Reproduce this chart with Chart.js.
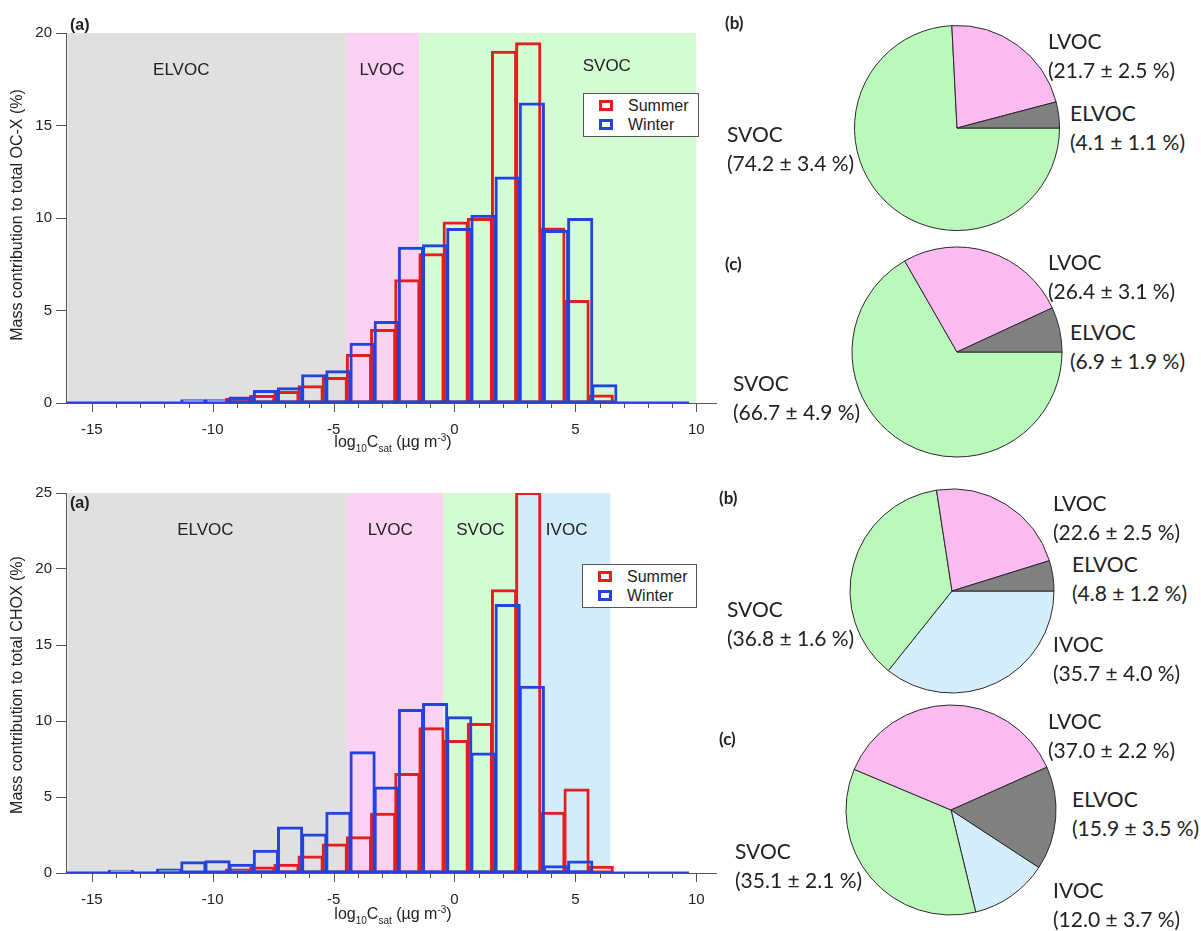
<!DOCTYPE html>
<html>
<head>
    <meta charset="UTF-8">
    <title>Volatility distribution OC-X / CHOX</title>
    <script src="https://cdn.jsdelivr.net/npm/chart.js"></script>
    <style>
        body {
            margin: 0;
            background: #fff;
            width: 1201px;
            height: 931px;
            position: relative;
            overflow: hidden;
            font-family: Arial, "Liberation Sans", sans-serif;
            color: #222;
        }
        canvas, .lbl { position: absolute; }
        .lbl { white-space: nowrap; }
        .pan { font-family: Lato, sans-serif; font-weight: bold; font-size: 17px; }
        .panA { font-weight: bold; font-size: 16px; }
        .pieTxt { font-family: Lato, sans-serif; font-size: 21px; line-height: 29px; }
        .xtitle { font-size: 16px; transform: translateX(-50%); }
        .xtitle sub, .xtitle sup { font-size: 10px; }
        .ytitle { font-size: 16px; transform: translate(-50%, -50%) rotate(-90deg); }
        .legend {
            position: absolute;
            border: 1px solid #555;
            background: #fff;
            font-size: 16px;
            box-sizing: border-box;
        }
        .legend .row { position: absolute; left: 0; height: 19px; line-height: 19px; }
        .legend .sw { position: absolute; left: 15px; top: 4px; width: 14px; height: 11px; box-sizing: border-box; border: 3px solid; }
        .legend .tx { position: absolute; left: 44px; top: 0; }
    </style>
</head>
<body>
    <canvas id="histOcx" width="740" height="460" style="left:0;top:0"></canvas>
    <canvas id="histChox" width="740" height="471" style="left:0;top:460px"></canvas>
    <canvas id="pieOcxB" width="220" height="220" style="left:847px;top:18px"></canvas>
    <canvas id="pieOcxC" width="224" height="224" style="left:845px;top:240px"></canvas>
    <canvas id="pieChoxB" width="220" height="220" style="left:842px;top:481px"></canvas>
    <canvas id="pieChoxC" width="224" height="224" style="left:839px;top:698px"></canvas>

    <div class="lbl panA" style="left:70px;top:16px">(a)</div>
    <div class="lbl panA" style="left:70px;top:494px">(a)</div>
    <div class="lbl pan" style="left:725px;top:12px">(b)</div>
    <div class="lbl pan" style="left:725px;top:253px">(c)</div>
    <div class="lbl pan" style="left:719px;top:487px">(b)</div>
    <div class="lbl pan" style="left:719px;top:728px">(c)</div>

    <div class="lbl ytitle" style="left:17px;top:215px">Mass contribution to total OC-X (%)</div>
    <div class="lbl ytitle" style="left:17px;top:685px">Mass contribution to total CHOX (%)</div>
    <div class="lbl xtitle" style="left:393px;top:432px">log<sub>10</sub>C<sub>sat</sub> (µg m<sup>-3</sup>)</div>
    <div class="lbl xtitle" style="left:393px;top:904px">log<sub>10</sub>C<sub>sat</sub> (µg m<sup>-3</sup>)</div>

    <div class="legend" style="left:583px;top:93px;width:116px;height:44px">
        <div class="row" style="top:2px"><div class="sw" style="border-color:#e41e1e"></div><div class="tx">Summer</div></div>
        <div class="row" style="top:21px"><div class="sw" style="border-color:#2244dd"></div><div class="tx">Winter</div></div>
    </div>
    <div class="legend" style="left:582px;top:564px;width:115px;height:44px">
        <div class="row" style="top:2px"><div class="sw" style="border-color:#e41e1e"></div><div class="tx">Summer</div></div>
        <div class="row" style="top:21px"><div class="sw" style="border-color:#2244dd"></div><div class="tx">Winter</div></div>
    </div>

    <script>
        // log10 Csat bins (one decade each)
        const bins = [-16, -15, -14, -13, -12, -11, -10, -9, -8, -7, -6, -5, -4, -3, -2, -1, 0, 1, 2, 3, 4, 5, 6, 7, 8, 9];
        const summerShift = 0.05;
        const winterShift = 0.2;

        const ocxSummer = [0, 0, 0, 0, 0, 0, 0, 0.23, 0.38, 0.6, 0.9, 1.35, 2.6, 3.95, 6.64, 8.04, 9.76, 9.94, 18.99, 19.44, 9.43, 5.52, 0.4, 0, 0, 0];
        const ocxWinter = [0, 0, 0, 0, 0, 0.15, 0.15, 0.3, 0.65, 0.8, 1.5, 1.71, 3.2, 4.38, 8.39, 8.53, 9.41, 10.12, 12.19, 16.19, 9.3, 9.94, 0.96, 0, 0, 0];
        const choxSummer = [0, 0, 0, 0, 0, 0, 0, 0.23, 0.36, 0.54, 1.09, 1.88, 2.36, 3.9, 6.51, 9.53, 8.69, 9.8, 18.6, 25.0, 3.97, 5.49, 0.41, 0, 0, 0];
        const choxWinter = [0, 0, 0.15, 0.05, 0.23, 0.7, 0.78, 0.55, 1.47, 3.0, 2.54, 3.97, 7.94, 5.63, 10.73, 11.12, 10.25, 7.87, 17.63, 12.25, 0.45, 0.75, 0, 0, 0, 0];

        const xTickLabels = [-15, -10, -5, 0, 5, 10];
        const ocxYTicks = [0, 5, 10, 15, 20];
        const choxYTicks = [0, 5, 10, 15, 20, 25];

        // volatility classes shaded behind the histograms
        const ocxBands = ['ELVOC', 'LVOC', 'SVOC'];
        const ocxBandEdges = [-16, -4.45, -1.45, 10];
        const choxBands = ['ELVOC', 'LVOC', 'SVOC', 'IVOC'];
        const choxBandEdges = [-16, -4.45, -0.45, 2.5, 6.45];
        const ocxBandLabelX = [-11.3, -3.0, 6.3];
        const ocxBandLabelY = [18.0, 18.0, 18.2];
        const choxBandLabelX = [-10.3, -2.66, 1.07, 4.64];
        const choxBandLabelY = [22.55, 22.55, 22.55, 22.55];

        // pie fractions (%) and errors
        const pieClasses = ['ELVOC', 'LVOC', 'SVOC', 'IVOC'];
        const ocxPieB = [4.1, 21.7, 74.2];
        const ocxPieBErr = [1.1, 2.5, 3.4];
        const ocxPieC = [6.9, 26.4, 66.7];
        const ocxPieCErr = [1.9, 3.1, 4.9];
        const choxPieB = [4.8, 22.6, 36.8, 35.7];
        const choxPieBErr = [1.2, 2.5, 1.6, 4.0];
        const choxPieC = [15.9, 37.0, 35.1, 12.0];
        const choxPieCErr = [3.5, 2.2, 2.1, 3.7];

        const RED = '#e41e1e';
        const BLUE = '#2244dd';
        const AXIS = '#555';
        const bandColors = { ELVOC: '#e0e0e0', LVOC: '#fcd2f4', SVOC: '#d4fcd4', IVOC: '#d3ecfa' };
        const pieColors = { ELVOC: '#808080', LVOC: '#fbbaf0', SVOC: '#bbf8bb', IVOC: '#d4eefb' };

        Chart.defaults.font.family = 'Arial, "Liberation Sans", sans-serif';
        Chart.defaults.font.size = 15;
        Chart.defaults.color = '#222';
        Chart.defaults.animation = false;

        const bandPlugin = {
            id: 'bands',
            beforeDraw(chart, args, o) {
                const { ctx, chartArea: a, scales: { x, y } } = chart;
                ctx.save();
                o.names.forEach((n, i) => {
                    const x0 = Math.max(x.getPixelForValue(o.edges[i]), a.left);
                    const x1 = Math.min(x.getPixelForValue(o.edges[i + 1]), a.right);
                    ctx.fillStyle = bandColors[n];
                    ctx.fillRect(x0, a.top, x1 - x0, a.bottom - a.top);
                });
                ctx.fillStyle = '#222';
                ctx.font = '17px Arial, "Liberation Sans", sans-serif';
                ctx.textAlign = 'center';
                ctx.textBaseline = 'middle';
                o.names.forEach((n, i) => {
                    ctx.fillText(n, x.getPixelForValue(o.labelX[i]), y.getPixelForValue(o.labelY[i]));
                });
                ctx.restore();
            },
            afterDraw(chart) {
                // x ticks: long on labelled values, short on every decade
                const { ctx, chartArea: a, scales: { x } } = chart;
                ctx.save();
                ctx.strokeStyle = AXIS;
                ctx.lineWidth = 1;
                ctx.beginPath();
                for (let v = Math.ceil(x.min); v <= Math.floor(x.max); v++) {
                    const px = Math.round(x.getPixelForValue(v)) + 0.5;
                    const len = xTickLabels.includes(v) ? 9 : 5;
                    ctx.moveTo(px, a.bottom);
                    ctx.lineTo(px, a.bottom + len);
                }
                ctx.stroke();
                ctx.restore();
            }
        };

        function points(vals, shift) {
            return bins.map((b, i) => ({ x: b + shift, y: vals[i] }));
        }

        function makeHist(id, summer, winter, yTicks, bands, edges, labelX, labelY, xAxisHeight) {
            const xMin = -15.55, xMax = 10.3;
            const barStyle = {
                type: 'bar',
                grouped: false,
                backgroundColor: 'rgba(0,0,0,0)',
                borderWidth: 1,
                inflateAmount: 1,
                borderSkipped: false,
                categoryPercentage: 1,
                barPercentage: 1
            };
            const first = bins[0] + winterShift - 0.5;
            const last = bins[bins.length - 1] + winterShift + 0.5;
            new Chart(document.getElementById(id), {
                data: {
                    datasets: [
                        { type: 'line', data: [{ x: first, y: 0 }, { x: last, y: 0 }], borderColor: BLUE, borderWidth: 3, pointRadius: 0, xAxisID: 'x', order: 0 },
                        Object.assign({ label: 'Winter', data: points(winter, winterShift), borderColor: BLUE, xAxisID: 'x2', order: 1 }, barStyle),
                        Object.assign({ label: 'Summer', data: points(summer, summerShift), borderColor: RED, xAxisID: 'x', order: 2 }, barStyle)
                    ]
                },
                options: {
                    responsive: false,
                    layout: { padding: { top: 33, right: 24, left: 0, bottom: 0 } },
                    plugins: {
                        legend: { display: false },
                        tooltip: { enabled: false },
                        bands: { names: bands, edges: edges, labelX: labelX, labelY: labelY }
                    },
                    scales: {
                        x: {
                            type: 'linear',
                            min: xMin,
                            max: xMax,
                            afterFit: s => { s.height = xAxisHeight; },
                            grid: { drawOnChartArea: false, tickLength: 9, tickColor: 'rgba(0,0,0,0)' },
                            border: { color: AXIS, width: 1 },
                            ticks: {
                                stepSize: 1,
                                includeBounds: false,
                                autoSkip: false,
                                maxRotation: 0,
                                padding: 9,
                                callback: v => xTickLabels.includes(v) ? String(v) : ''
                            }
                        },
                        x2: {
                            type: 'linear',
                            display: false,
                            min: xMin,
                            max: xMax,
                            ticks: { stepSize: 1, includeBounds: false }
                        },
                        y: {
                            min: yTicks[0],
                            max: yTicks[yTicks.length - 1],
                            afterFit: s => { s.width = 66; },
                            grid: { drawOnChartArea: false, tickLength: 10, tickColor: AXIS },
                            border: { color: AXIS, width: 1 },
                            ticks: { stepSize: 5, padding: 4 }
                        }
                    }
                },
                plugins: [bandPlugin]
            });
        }

        makeHist('histOcx', ocxSummer, ocxWinter, ocxYTicks, ocxBands, ocxBandEdges, ocxBandLabelX, ocxBandLabelY, 57);
        makeHist('histChox', choxSummer, choxWinter, choxYTicks, choxBands, choxBandEdges, choxBandLabelX, choxBandLabelY, 58);

        // pies: classes run counter-clockwise from the start angle, so feed them reversed
        function makePie(id, values, errs, radius, startOffset, labelPos) {
            const names = pieClasses.slice(0, values.length);
            new Chart(document.getElementById(id), {
                type: 'pie',
                data: {
                    labels: names.slice().reverse(),
                    datasets: [{
                        data: values.slice().reverse(),
                        backgroundColor: names.slice().reverse().map(n => pieColors[n]),
                        borderColor: '#2a2a2a',
                        borderWidth: 1
                    }]
                },
                options: {
                    responsive: false,
                    radius: radius,
                    rotation: 90 + startOffset,
                    plugins: { legend: { display: false }, tooltip: { enabled: false } }
                }
            });
            names.forEach((n, i) => {
                const d = document.createElement('div');
                d.className = 'lbl pieTxt';
                d.style.left = labelPos[i][0] + 'px';
                d.style.top = (labelPos[i][1] - 14) + 'px';
                d.innerHTML = n + '<br>(' + values[i].toFixed(1) + ' ± ' + errs[i].toFixed(1) + ' %)';
                document.body.appendChild(d);
            });
        }

        makePie('pieOcxB', ocxPieB, ocxPieBErr, 102.5, 0, [[1070, 112], [1048, 40], [727, 133]]);
        makePie('pieOcxC', ocxPieC, ocxPieCErr, 105, 0, [[1070, 331], [1048, 261], [733, 382]]);
        makePie('pieChoxB', choxPieB, choxPieBErr, 102, 0, [[1072, 563], [1053, 502], [727, 608], [1053, 643]]);
        makePie('pieChoxC', choxPieC, choxPieCErr, 105, 33.2, [[1072, 798], [1048, 720], [735, 850], [1053, 889]]);
    </script>
</body>
</html>
